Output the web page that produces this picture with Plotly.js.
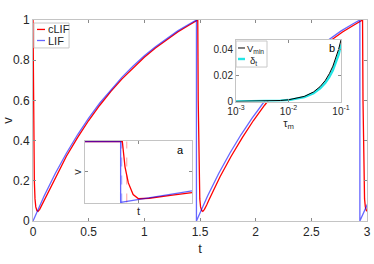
<!DOCTYPE html>
<html>
<head>
<meta charset="utf-8">
<script src="https://cdn.plot.ly/plotly-3.0.1.min.js"></script>
<style>html,body{margin:0;padding:0;background:#fff;}#chart{width:374px;height:264px;}</style>
</head>
<body>
<div id="chart"></div>
<script>
// ---- main panel: one firing cycle (phase after each spike) ----
const lifSpikes  = [0, 1.468, 2.936];
const lifPhase   = [0, 0.1, 0.2, 0.3, 0.4, 0.5, 0.6, 0.7, 0.8, 0.9, 1.0, 1.1, 1.2, 1.3, 1.4, 1.468];
const lifV       = [0, 0.124, 0.236, 0.337, 0.429, 0.512, 0.587, 0.654, 0.716, 0.771, 0.822, 0.867, 0.908, 0.946, 0.979, 1.0];

const clifSpikes = [0, 1.48, 2.96];
const clifPhase  = [0, 0.004, 0.008, 0.012, 0.018, 0.025, 0.035, 0.045, 0.06, 0.08, 0.1, 0.2, 0.3, 0.4, 0.5, 0.6, 0.7, 0.8, 0.9, 1.0, 1.1, 1.2, 1.3, 1.4, 1.48];
const clifV      = [1.0, 0.6, 0.35, 0.2, 0.11, 0.07, 0.052, 0.048, 0.058, 0.08, 0.105, 0.220, 0.322, 0.415, 0.500, 0.576, 0.645, 0.707, 0.763, 0.815, 0.861, 0.902, 0.940, 0.974, 1.0];

const mainXTicks = [0, 0.5, 1, 1.5, 2, 2.5, 3];
const mainXText  = ['0', '0.5', '1', '1.5', '2', '2.5', '3'];
const mainYTicks = [0, 0.2, 0.4, 0.6, 0.8, 1];
const mainYText  = ['0', '0.2', '0.4', '0.6', '0.8', '1'];

// ---- inset a: zoom around a spike ----
const aLifT  = [0, 0.333, 0.333, 1.0];
const aLifV  = [1, 1, 0, 0.19];
const aClifT = [0, 0.349, 0.358, 0.374, 0.405, 0.45, 0.50, 0.6, 0.8, 1.0];
const aClifV = [1, 1, 0.85, 0.585, 0.32, 0.13, 0.06, 0.068, 0.115, 0.16];
const aLifSpike  = 0.343;
const aClifSpike = 0.39;

// ---- inset b: V_min and delta_t vs tau_m ----
const tauM   = [0.001, 0.002, 0.003, 0.005, 0.007, 0.01, 0.015, 0.02, 0.03, 0.04, 0.05, 0.06, 0.07, 0.08, 0.09, 0.1];
const vMin   = [0.00004, 0.00011, 0.00020, 0.00045, 0.00076, 0.0013, 0.0025, 0.0039, 0.0073, 0.0114, 0.0160, 0.0213, 0.0270, 0.0333, 0.0399, 0.0470];
const deltaT = [0.00003, 0.00009, 0.00017, 0.00039, 0.00066, 0.0011, 0.0022, 0.0034, 0.0064, 0.0100, 0.0141, 0.0188, 0.0239, 0.0296, 0.0358, 0.0435];
const bXTicks = [0.001, 0.01, 0.1];
const bXText  = ['10<sup>-3</sup>', '10<sup>-2</sup>', '10<sup>-1</sup>'];
const bYTicks = [0, 0.02, 0.04];
const bYText  = ['0', '0.02', '0.04'];

function buildSeries(spikes, phase, vals) {
  const x = [], y = [];
  spikes.forEach(s => { phase.forEach((p, i) => { x.push(s + p); y.push(vals[i]); }); });
  return {x, y};
}
const lif = buildSeries(lifSpikes, lifPhase, lifV);
const clif = buildSeries(clifSpikes, clifPhase, clifV);

const RED = '#ff0000';
const BLUE = 'rgba(0,0,255,0.6)';
const TXT = '#262626';
const FRAME = '#c4c4c4';
const FONT = 'Liberation Sans, Arial, sans-serif';

const traces = [
  {x: clif.x, y: clif.y, xaxis: 'x', yaxis: 'y', mode: 'lines', line: {color: RED, width: 1.3}, showlegend: false, name: 'cLIF'},
  {x: lif.x, y: lif.y, xaxis: 'x', yaxis: 'y', mode: 'lines', line: {color: BLUE, width: 1.3}, showlegend: false, name: 'LIF'},

  {x: [aLifSpike, aLifSpike], y: [0, 1], xaxis: 'x2', yaxis: 'y2', mode: 'lines', line: {color: 'rgba(100,100,255,0.45)', width: 1.2, dash: 'dash'}, showlegend: false},
  {x: [aClifSpike, aClifSpike], y: [0, 1], xaxis: 'x2', yaxis: 'y2', mode: 'lines', line: {color: 'rgba(255,80,80,0.45)', width: 1.2, dash: 'dash'}, showlegend: false},
  {x: aClifT, y: aClifV, xaxis: 'x2', yaxis: 'y2', mode: 'lines', line: {color: RED, width: 1.3}, showlegend: false},
  {x: aLifT, y: aLifV, xaxis: 'x2', yaxis: 'y2', mode: 'lines', line: {color: BLUE, width: 1.3}, showlegend: false},

  {x: tauM, y: deltaT, xaxis: 'x3', yaxis: 'y3', mode: 'lines', line: {color: '#22e5e5', width: 2.4}, showlegend: false, name: 'δt'},
  {x: tauM, y: vMin, xaxis: 'x3', yaxis: 'y3', mode: 'lines', line: {color: '#000000', width: 1}, showlegend: false, name: 'Vmin'}
];

const axBase = {
  showline: true, linecolor: FRAME, linewidth: 1, mirror: 'ticks',
  ticks: 'inside', ticklen: 3, tickcolor: '#8a8a8a', tickwidth: 1,
  showgrid: false, zeroline: false, tickfont: {family: FONT, size: 12, color: TXT}
};

const layout = {
  width: 374, height: 264,
  margin: {l: 33, r: 7, t: 20, b: 43, pad: 0},
  paper_bgcolor: '#ffffff', plot_bgcolor: '#ffffff',
  font: {family: FONT, color: TXT},
  showlegend: false,
  xaxis: Object.assign({}, axBase, {domain: [0, 1], range: [0, 3], anchor: 'y', tickmode: 'array', tickvals: mainXTicks, ticktext: mainXText,
    title: {text: 't', font: {family: FONT, size: 13, color: TXT}, standoff: 5}}),
  yaxis: Object.assign({}, axBase, {domain: [0, 1], range: [0, 1], anchor: 'x', tickmode: 'array', tickvals: mainYTicks, ticktext: mainYText,
    title: {text: 'v', font: {family: FONT, size: 13, color: TXT}, standoff: 4}}),

  xaxis2: Object.assign({}, axBase, {domain: [0.1557, 0.476], range: [0, 1], anchor: 'y2', tickmode: 'array', tickvals: [0.5], showticklabels: false,
    title: {text: 't', font: {family: FONT, size: 11, color: TXT}, standoff: 4}}),
  yaxis2: Object.assign({}, axBase, {domain: [0.0896, 0.398], range: [-0.01, 1.01], anchor: 'x2', tickmode: 'array', tickvals: [0.5], showticklabels: false,
    title: {text: 'v', font: {family: FONT, size: 11, color: TXT}, standoff: 0}}),

  xaxis3: Object.assign({}, axBase, {domain: [0.6078, 0.9222], type: 'log', range: [-3, -1], anchor: 'y3', tickmode: 'array', tickvals: bXTicks, ticktext: bXText,
    tickfont: {family: FONT, size: 10, color: TXT},
    title: {text: 'τ<sub>m</sub>', font: {family: FONT, size: 11, color: TXT}, standoff: 3}}),
  yaxis3: Object.assign({}, axBase, {domain: [0.5945, 0.9005], range: [0, 0.047], anchor: 'x3', tickmode: 'array', tickvals: bYTicks, ticktext: bYText,
    tickfont: {family: FONT, size: 10, color: TXT}}),

  shapes: [
    // main legend
    {type: 'rect', xref: 'paper', yref: 'paper', x0: 0.003, x1: 0.108, y0: 0.861, y1: 0.985, line: {color: '#c8c8c8', width: 1}, fillcolor: '#ffffff', layer: 'above'},
    {type: 'line', xref: 'paper', yref: 'paper', x0: 0.012, x1: 0.036, y0: 0.953, y1: 0.953, line: {color: RED, width: 1.3}, layer: 'above'},
    {type: 'line', xref: 'paper', yref: 'paper', x0: 0.012, x1: 0.036, y0: 0.898, y1: 0.898, line: {color: BLUE, width: 1.3}, layer: 'above'},
    // inset b legend
    {type: 'rect', xref: 'paper', yref: 'paper', x0: 0.608, x1: 0.7006, y0: 0.766, y1: 0.8955, line: {color: '#c8c8c8', width: 1}, fillcolor: '#ffffff', layer: 'above'},
    {type: 'line', xref: 'paper', yref: 'paper', x0: 0.6138, x1: 0.6347, y0: 0.8607, y1: 0.8607, line: {color: '#000000', width: 1}, layer: 'above'},
    {type: 'line', xref: 'paper', yref: 'paper', x0: 0.6138, x1: 0.6347, y0: 0.806, y1: 0.806, line: {color: '#22e5e5', width: 2.4}, layer: 'above'}
  ],
  annotations: [
    {xref: 'paper', yref: 'paper', x: 0.039, y: 0.953, text: 'cLIF', showarrow: false, xanchor: 'left', yanchor: 'middle', font: {family: FONT, size: 11, color: TXT}},
    {xref: 'paper', yref: 'paper', x: 0.039, y: 0.898, text: 'LIF', showarrow: false, xanchor: 'left', yanchor: 'middle', font: {family: FONT, size: 11, color: TXT}},
    {xref: 'paper', yref: 'paper', x: 0.636, y: 0.857, text: 'V<sub>min</sub>', showarrow: false, xanchor: 'left', yanchor: 'middle', font: {family: FONT, size: 9.5, color: TXT}},
    {xref: 'paper', yref: 'paper', x: 0.645, y: 0.797, text: 'δ<sub>t</sub>', showarrow: false, xanchor: 'left', yanchor: 'middle', font: {family: FONT, size: 9.5, color: TXT}},
    {xref: 'x2 domain', yref: 'y2 domain', x: 0.888, y: 0.855, text: 'a', showarrow: false, xanchor: 'center', yanchor: 'middle', font: {family: FONT, size: 11, color: '#000'}},
    {xref: 'x3 domain', yref: 'y3 domain', x: 0.914, y: 0.87, text: 'b', showarrow: false, xanchor: 'center', yanchor: 'middle', font: {family: FONT, size: 11, color: '#000'}}
  ]
};

Plotly.newPlot('chart', traces, layout, {displayModeBar: false, staticPlot: true});
</script>
</body>
</html>
